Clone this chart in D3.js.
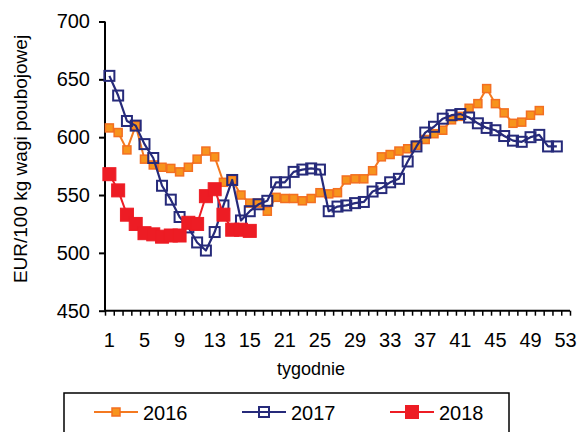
<!DOCTYPE html>
<html>
<head>
<meta charset="utf-8">
<script src="https://cdn.jsdelivr.net/npm/d3@7"></script>
<style>
  html, body { margin: 0; padding: 0; background: #fff; }
  svg { display: block; font-family: "Liberation Sans", Arial, sans-serif; }
</style>
</head>
<body>
<svg id="chart" width="581" height="432"></svg>
<script>
// Weekly prices, EUR per 100 kg of carcass weight
const weeks = d3.range(1, 54);
const series2016 = [608, 604, 589, 610, 581, 576, 574, 573, 570, 574, 581, 588, 583, 561, 563, 550, 543, 543, 536, 548,
  547, 547, 545, 547, 552, 551, 552, 563, 564, 564, 571, 583, 585, 588, 590, 593, 598, 603, 606, 615,
  618, 625, 629, 642, 629, 621, 612, 613, 619, 623];
const series2017 = [653, 636, 614, 610, 594, 582, 558, 546, 531, 522, 509, 502, 518, 541, 563, 528, 536, 542, 545, 561,
  561, 570, 572, 573, 572, 536, 540, 541, 543, 544, 553, 556, 561, 564, 579, 592, 604, 609, 616, 619,
  620, 617, 612, 608, 606, 601, 597, 596, 600, 602, 592, 592];
const series2018 = [568, 554, 533, 525, 517, 516, 514, 515, 515, 526, 525, 549, 555, 533, 520, 520, 519];
const seriesNames = ["2016", "2017", "2018"];

// Axis labels
const xTickWeeks = [1, 5, 9, 13, 17, 21, 25, 29, 33, 37, 41, 45, 49, 53];
const xTickLabels = ["1", "5", "9", "13", "15", "21", "25", "29", "33", "37", "41", "45", "49", "53"];
const yTicks = [450, 500, 550, 600, 650, 700];
const xTitle = "tygodnie";
const yTitle = "EUR/100 kg wagi poubojowej";

const svg = d3.select("#chart");
const plotLeft = 105, plotRight = 570, plotTop = 21.5, plotBottom = 310.7;

const x = d3.scaleBand().domain(weeks).range([plotLeft, plotRight]).paddingInner(0).paddingOuter(0);
const xc = w => x(w) + x.bandwidth() / 2;
const xEdge = d3.scaleLinear().domain([0, weeks.length]).range([plotLeft, plotRight]);
const y = d3.scaleLinear().domain([450, 700]).range([plotBottom, plotTop]);

// Y axis
const yAxis = svg.append("g")
  .attr("transform", `translate(${plotLeft},0)`)
  .call(d3.axisLeft(y).tickValues(yTicks).tickSize(6).tickPadding(9).tickFormat(d3.format("d")));
yAxis.select(".domain").attr("stroke", "#000").attr("stroke-width", 2).attr("d", `M0,${plotTop}V${plotBottom}`);
yAxis.selectAll(".tick line").attr("stroke", "#000").attr("stroke-width", 2);
yAxis.selectAll(".tick text").attr("fill", "#000").style("font-size", "20px")
  .style("font-family", "'Liberation Sans', Arial, sans-serif");

// X axis: tick marks on category boundaries
const xAxis = svg.append("g")
  .attr("transform", `translate(0,${plotBottom})`)
  .call(d3.axisBottom(xEdge).tickValues(d3.range(0, weeks.length + 1)).tickSize(5).tickFormat(""));
xAxis.select(".domain").attr("stroke", "#000").attr("stroke-width", 2).attr("d", `M${plotLeft},0H${plotRight}`);
xAxis.selectAll(".tick line").attr("stroke", "#000").attr("stroke-width", 1.5);

// X axis: category labels
const xLab = svg.append("g")
  .attr("transform", `translate(0,${plotBottom})`)
  .call(d3.axisBottom(x).tickValues(xTickWeeks).tickSize(0).tickPadding(22)
    .tickFormat(w => xTickLabels[xTickWeeks.indexOf(w)]));
xLab.select(".domain").remove();
xLab.selectAll(".tick text").attr("fill", "#000").style("font-size", "20px")
  .style("font-family", "'Liberation Sans', Arial, sans-serif");

// Axis titles
svg.append("text").attr("x", 311).attr("y", 375).attr("text-anchor", "middle")
  .style("font-size", "18px").attr("fill", "#000").text(xTitle);
svg.append("text").attr("transform", "translate(27,159) rotate(-90)").attr("text-anchor", "middle")
  .style("font-size", "19px").attr("fill", "#000").text(yTitle);

// Series styles
const styles = [
  { data: series2016, line: "#F47920", lw: 2, size: 8, fill: "#F7941D", stroke: "#F36F21", sw: 1.5 },
  { data: series2017, line: "#262A7A", lw: 2.2, size: 10, fill: "none", stroke: "#262A7A", sw: 2 },
  { data: series2018, line: "#ED1C24", lw: 2, size: 13, fill: "#ED1C24", stroke: "#ED1C24", sw: 1 }
];

const line = d3.line().x((d, i) => xc(weeks[i])).y(d => y(d));

styles.forEach((s, k) => {
  const g = svg.append("g").attr("class", "series-" + seriesNames[k]);
  g.append("path").datum(s.data)
    .attr("d", line).attr("fill", "none").attr("stroke", s.line).attr("stroke-width", s.lw)
    .attr("stroke-linejoin", "round");
  g.selectAll("rect").data(s.data).join("rect")
    .attr("x", (d, i) => xc(weeks[i]) - s.size / 2)
    .attr("y", d => y(d) - s.size / 2)
    .attr("width", s.size).attr("height", s.size)
    .attr("fill", s.fill).attr("stroke", s.stroke).attr("stroke-width", s.sw);
});

// Legend
const legend = svg.append("g");
legend.append("rect").attr("x", 64).attr("y", 393).attr("width", 445).attr("height", 60)
  .attr("fill", "none").attr("stroke", "#000").attr("stroke-width", 1.5);
const legendX = [94, 242, 390];
styles.forEach((s, k) => {
  const lx = legendX[k], ly = 412;
  legend.append("line").attr("x1", lx).attr("x2", lx + 44).attr("y1", ly).attr("y2", ly)
    .attr("stroke", s.line).attr("stroke-width", s.lw);
  legend.append("rect").attr("x", lx + 22 - s.size / 2).attr("y", ly - s.size / 2)
    .attr("width", s.size).attr("height", s.size)
    .attr("fill", s.fill).attr("stroke", s.stroke).attr("stroke-width", s.sw);
  legend.append("text").attr("x", lx + 49).attr("y", ly + 7.5)
    .style("font-size", "20px").attr("fill", "#000").text(seriesNames[k]);
});
</script>
</body>
</html>
